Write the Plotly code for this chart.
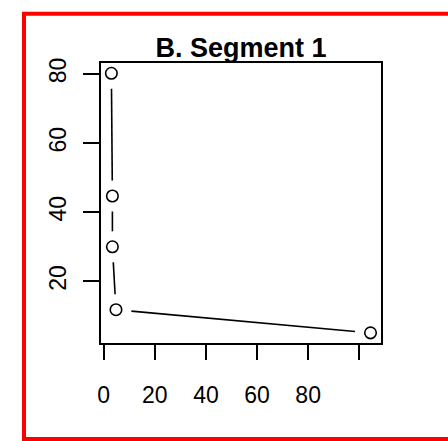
import plotly.graph_objects as go

# ---- data ----
x_vals = [3.0, 3.4, 3.4, 4.8, 104.4]
y_vals = [80.2, 44.7, 30.0, 11.8, 5.1]
x_tickvals = [0, 20, 40, 60, 80, 100]
x_ticktext = ["0", "20", "40", "60", "80", ""]
y_tickvals = [20, 40, 60, 80]
y_ticktext = ["20", "40", "60", "80"]
title_text = "B. Segment 1"

# ---- layout geometry ----
W, H = 448, 441
L, R, T, B = 101, 67, 63, 98
PW, PH = W - L - R, H - T - B
xr = [-1.06, 108.5]
yr = [2.17, 83.18]
GAP = 15.5  # px gap between line ends and point centers (R type="b")

sx = PW / (xr[1] - xr[0])
sy = PH / (yr[1] - yr[0])

# build gapped line segments (type="b")
seg_x, seg_y = [], []
for i in range(len(x_vals) - 1):
    x0, y0, x1, y1 = x_vals[i], y_vals[i], x_vals[i + 1], y_vals[i + 1]
    dxp, dyp = (x1 - x0) * sx, (y1 - y0) * sy
    d = (dxp ** 2 + dyp ** 2) ** 0.5
    if d <= 2 * GAP:
        continue
    f = GAP / d
    seg_x += [x0 + (x1 - x0) * f, x1 - (x1 - x0) * f, None]
    seg_y += [y0 + (y1 - y0) * f, y1 - (y1 - y0) * f, None]

FONT = "Liberation Sans, Arial, sans-serif"

fig = go.Figure()
fig.add_trace(go.Scatter(x=seg_x, y=seg_y, mode="lines",
                         line=dict(color="black", width=1.6),
                         hoverinfo="skip", showlegend=False))
fig.add_trace(go.Scatter(x=x_vals, y=y_vals, mode="markers",
                         marker=dict(symbol="circle-open", size=11.5,
                                     color="black", line=dict(width=1.6)),
                         showlegend=False, cliponaxis=False))

def px2paper_x(p):
    return (p - L) / PW

def px2paper_y(p):
    return 1 - (p - T) / PH

# red outer frame
fig.add_shape(type="rect", xref="paper", yref="paper",
              x0=px2paper_x(24), x1=px2paper_x(470),
              y0=px2paper_y(439), y1=px2paper_y(13.7),
              line=dict(color="red", width=4), layer="above")

fig.update_layout(
    width=W, height=H,
    margin=dict(l=L, r=R, t=T, b=B),
    paper_bgcolor="white", plot_bgcolor="white",
    font=dict(family=FONT, color="black"),
    title=dict(text="<b>" + title_text + "</b>", x=0.5, xref="paper",
               y=1 - 48 / H, yref="container", yanchor="middle",
               xanchor="center",
               font=dict(size=27, family=FONT, color="black")),
    xaxis=dict(range=xr, tickvals=x_tickvals, ticktext=x_ticktext,
               ticks="outside", ticklen=15, tickwidth=1.5, tickcolor="black",
               showline=True, linecolor="black", linewidth=1.5, mirror=True,
               showgrid=False, zeroline=False,
               tickfont=dict(size=23, family=FONT, color="black"),
               ticklabelstandoff=16),
    yaxis=dict(range=yr, tickvals=y_tickvals, ticktext=y_ticktext,
               ticks="outside", ticklen=16, tickwidth=1.5, tickcolor="black",
               showline=True, linecolor="black", linewidth=1.5, mirror=True,
               showgrid=False, zeroline=False, tickangle=-90,
               tickfont=dict(size=23, family=FONT, color="black"),
               ticklabelstandoff=8),
)

fig.write_html("out.html")
